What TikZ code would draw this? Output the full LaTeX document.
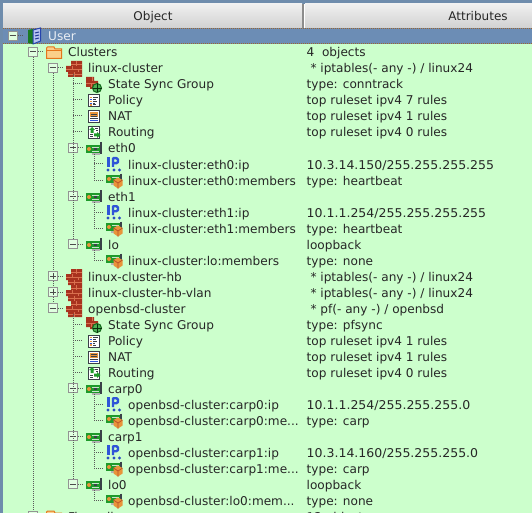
\documentclass[tikz,border=0pt]{standalone}
\usepackage{fontspec}
\setmainfont{DejaVu Sans}
\usetikzlibrary{calc}
\definecolor{rowgreen}{HTML}{CCFFCC}
\definecolor{rowblue}{HTML}{6C8DB5}
\definecolor{framebluegray}{HTML}{6E8CAC}
\definecolor{brick}{HTML}{A8331F}
\definecolor{brickline}{HTML}{D9704F}
\definecolor{nicgreen}{HTML}{1E9A2A}
\definecolor{icondark}{HTML}{3A4048}
\definecolor{ipblue}{HTML}{2F55D8}
\definecolor{cubeorange}{HTML}{E8943A}
\definecolor{folderorange}{HTML}{E4761C}
\definecolor{folderfill}{HTML}{FBD08A}
\newcommand{\cutdots}{.{}.{}.}
\newcommand{\ipnum}[1]{\scalebox{1.035}[1]{#1}}
\tikzset{objlabel/.style={anchor=base west,
                        inner sep=0pt,
                        font=\fontsize{12.1}{14}\selectfont,
                        text=black!85
                        },
        headlabel/.style={anchor=base,
                        inner sep=0pt,
                        font=\fontsize{12}{14}\selectfont,
                        text=black!85
        },
        iconbox/.style={minimum width=22pt,
                        minimum height=12pt,
                        inner sep=0pt
        },
        treeline/.style={line width=1pt,
                        dash pattern=on 1pt off 1pt,
                        black!65
        },
        expminus/.style={draw=gray!85,
                        fill=rowgreen!60!white,
                        line width=1pt,
                        minimum size=9pt,
                        inner sep=0pt,
                        path picture={\draw[black!70,line width=1pt]
                            ([xshift=-3pt]path picture bounding box.center) -- ([xshift=3pt]path picture bounding box.center);}
        },
        expplus/.style={expminus,
                        append after command={
                            (\tikzlastnode.center) +(0,-3) edge[black!70,line width=1pt] +(0,3)
                        }
        },
        bookicon/.pic={
            \fill[nicgreen!80!black] (-6,-6) -- (-1,-7) -- (-1,8) -- (-6,7) -- cycle;
            \draw[ipblue!80!black,fill=ipblue!35!white,line width=1pt] (-1,-6) -- (6.5,-8) -- (6.5,5) -- (-1,8) -- cycle;
            \draw[ipblue!70!black,line width=1pt] (1,-3) -- (5,-4) (1,0) -- (5,-1) (1,3) -- (5,2);
        },
        foldericon/.pic={
            \draw[folderorange,fill=folderfill,line width=1pt] (-7.5,-4) -- (-6.5,-5) -- (0,-5) -- (1,-3) -- (7.5,-3) -- (7.5,6.5) -- (-7.5,6.5) -- cycle;
            \draw[folderorange,line width=1pt] (-7.5,-1) -- (7.5,-1);
        },
        brickicon/.pic={
            \fill[brick] (-3,-7) rectangle (8,-2) (-8,-2) rectangle (8,4) (-6,4) rectangle (8,9);
            \draw[brickline,line width=.8pt] (-8,1) -- (8,1) (-6,6) -- (8,6) (-3,-4) -- (8,-4) (2,-7) -- (2,-2) (-2,-2) -- (-2,1) (4,1) -- (4,4) (0,4) -- (0,9);
        },
        syncicon/.pic={
            \fill[brick] (-8,-7) rectangle (0,-3) (-8,-3) rectangle (4,3) (-4,3) rectangle (4,5);
            \draw[brickline,line width=.8pt] (-8,-1) -- (4,-1) (-2,-7) -- (-2,-3) (-3,-1) -- (-3,3);
            \draw[nicgreen!70!black,fill=nicgreen!80!white,line width=1pt] (3,4) circle (4.5pt);
            \draw[black!70!nicgreen,line width=.7pt] (-1.5,4) -- (7.5,4) (3,-.5) -- (3,8.5);
        },
        policyicon/.pic={
            \draw[icondark,fill=white,line width=1pt] (-5.5,-5) rectangle (5.5,7);
            \foreach \yrow/\xend in {-2.5/3.5,-.5/1.5,1.5/3,3.5/1,5/2}
                \draw[icondark,line width=1pt] (-1,\yrow) -- (\xend,\yrow);
            \foreach \yrow in {-2.5,1.5,5}
                \draw[cubeorange,line width=1.2pt] (-4,\yrow) -- (-2,\yrow);
            \draw[ipblue,line width=1.2pt] (-4,-.5) -- (-2,-.5) (-4,3.5) -- (-2,3.5);
        },
        naticon/.pic={
            \draw[icondark,fill=white,line width=1pt] (-5.5,-5) rectangle (5.5,7);
            \fill[cubeorange] (-4,-3.5) rectangle (4,1.5);
            \draw[icondark,line width=.8pt] (-3,-2) -- (3,-2) (-3,0) -- (3,0);
            \draw[icondark,line width=1pt] (-4,3) -- (4,3);
            \draw[ipblue,line width=1pt] (-4,5) -- (4,5);
        },
        routingicon/.pic={
            \draw[icondark,fill=white,line width=1pt] (-5.5,-5) rectangle (5.5,7);
            \fill[nicgreen] (-2,-5) -- (1,-2) -- (-.5,-2) -- (-.5,1) -- (-3.5,1) -- (-3.5,-2) -- (-5,-2) -- cycle;
            \fill[nicgreen] (0,1.5) -- (3,1.5) -- (3,0) -- (6.5,3) -- (3,6) -- (3,4.5) -- (0,4.5) -- cycle;
            \draw[icondark,line width=1pt] (1,-3) -- (4,-3) (2,-1) -- (4,-1) (-4,3) -- (-1,3) (-4,5) -- (-1,5);
        },
        nicicon/.pic={
            \fill[gray!60] (-2,4) rectangle (6,7);
            \fill[nicgreen] (-8,-3) rectangle (6,5);
            \draw[icondark,line width=2pt] (7,-6) -- (7,6);
            \fill[cubeorange] (-5,1) circle (2pt);
            \draw[white!75!nicgreen,line width=.8pt] (-2,-1) -- (5,-1) (-2,3) -- (5,3);
            \fill[icondark] (0,.2) rectangle (3,1.8);
        },
        memicon/.pic={
            \fill[gray!60] (-3,2) rectangle (3,5);
            \fill[nicgreen] (-8,-5) rectangle (6,3);
            \draw[icondark,line width=2pt] (7,-6.5) -- (7,3);
            \fill[cubeorange] (-5,-1) circle (2pt);
            \draw[white!75!nicgreen,line width=.8pt] (-2,-3) -- (5,-3);
            \fill[cubeorange] (4,-2.5) -- (8.5,0) -- (8.5,5.5) -- (4,8.5) -- (-.5,5.5) -- (-.5,0) -- cycle;
            \draw[brick!70!cubeorange,line width=.7pt] (-.5,0) -- (4,3) -- (8.5,0) (4,3) -- (4,8.5);
        },
        ipicon/.pic={
            \fill[ipblue] (-7,-7) rectangle (-4,3);
            \draw[ipblue,line width=2.4pt,line join=round] (-1,3) -- (-1,-5.8) -- (2.5,-5.8) -- (4,-4.5) -- (4,-2) -- (2.5,-.8) -- (-1,-.8);
            \foreach \xdot in {-6,0,5.5}
                \fill[ipblue!90!black] (\xdot,6) circle (1.7pt);
        },
}
\begin{document}
\begin{tikzpicture}
    [x=1pt,y=-1pt]
    \useasboundingbox (0,0) rectangle (532,513);
    \clip (0,0) rectangle (532,513);

    % BACKGROUND
    \fill[framebluegray] (0,0) rectangle (532,513);
    \fill[rowgreen] (3,44) rectangle (532,513);
    \shade[top color=black!6,bottom color=black!18] (3,4) rectangle (302,28);
    \shade[top color=black!6,bottom color=black!18] (305,4) rectangle (532,28);
    \fill[black!45] (302,4) rectangle (304,28);
    \fill[white] (304,4) rectangle (305,28);
    \fill[rowblue] (3,28) rectangle (532,44);
    \draw[brown!80!black,line width=1pt,dash pattern=on 1pt off 1pt] (3,28.5) -- (532,28.5) (3,44) -- (532,44);

    % HEADER
    \node[headlabel] (headObject) at (153,21) {Object};
    \node[headlabel] (headAttributes) at (478,21) {Attributes};

    % USER ROW
    \node[iconbox] (icouser) at (34,36) {};
    \pic at (icouser) {bookicon};
    \node[objlabel,text=white!85!rowblue] (lbluser) at (48,41) {User};

    % ROWS
    \foreach \rowname/\level/\iconname/\objtext/\attrtext [count=\i] in {
        clusters/1/foldericon/Clusters/{4\ \ objects},
        linux/2/brickicon/linux-cluster/{\ * iptables(- any -) / linux24},
        lsync/3/syncicon/State Sync Group/{type: conntrack},
        lpolicy/3/policyicon/Policy/{top ruleset ipv4 7 rules},
        lnat/3/naticon/NAT/{top ruleset ipv4 1 rules},
        lrouting/3/routingicon/Routing/{top ruleset ipv4 0 rules},
        eth0/3/nicicon/eth0/{},
        eth0ip/4/ipicon/linux-cluster:eth0:ip/{\ipnum{10.3.14.150/255.255.255.255}},
        eth0mem/4/memicon/linux-cluster:eth0:members/{type: heartbeat},
        eth1/3/nicicon/eth1/{},
        eth1ip/4/ipicon/linux-cluster:eth1:ip/{\ipnum{10.1.1.254/255.255.255.255}},
        eth1mem/4/memicon/linux-cluster:eth1:members/{type: heartbeat},
        lo/3/nicicon/lo/{loopback},
        lomem/4/memicon/linux-cluster:lo:members/{type: none},
        hb/2/brickicon/linux-cluster-hb/{\ * iptables(- any -) / linux24},
        hbvlan/2/brickicon/linux-cluster-hb-vlan/{\ * iptables(- any -) / linux24},
        openbsd/2/brickicon/openbsd-cluster/{\ * pf(- any -) / openbsd},
        osync/3/syncicon/State Sync Group/{type: pfsync},
        opolicy/3/policyicon/Policy/{top ruleset ipv4 1 rules},
        onat/3/naticon/NAT/{top ruleset ipv4 1 rules},
        orouting/3/routingicon/Routing/{top ruleset ipv4 0 rules},
        carp0/3/nicicon/carp0/{},
        carp0ip/4/ipicon/openbsd-cluster:carp0:ip/{\ipnum{10.1.1.254/255.255.255.0}},
        carp0mem/4/memicon/openbsd-cluster:carp0:me\cutdots/{type: carp},
        carp1/3/nicicon/carp1/{},
        carp1ip/4/ipicon/openbsd-cluster:carp1:ip/{\ipnum{10.3.14.160/255.255.255.0}},
        carp1mem/4/memicon/openbsd-cluster:carp1:me\cutdots/{type: carp},
        lo0/3/nicicon/lo0/{loopback},
        lo0mem/4/memicon/openbsd-cluster:lo0:mem\cutdots/{type: none},
        firewalls/1/foldericon/Firewalls/{12 objects}}
    {
        \pgfmathsetmacro{\rowy}{36+16*\i}
        \pgfmathsetmacro{\iconx}{34+20*\level}
        \node[iconbox] (ico\rowname) at (\iconx,\rowy) {};
        \pic at (ico\rowname) {\iconname};
        \node[objlabel] (lbl\rowname) at (\iconx+14,\rowy+5) {\objtext};
        \node[objlabel] (att\rowname) at (306.5,\rowy+5) {\attrtext};
    }

    % EXPANDERS
    \node[expminus] (expuser) at ($(icouser)+(-21.5,0)$) {};
    \foreach \rowname/\stylename in {clusters/expminus,firewalls/expplus,linux/expminus,hb/expplus,hbvlan/expplus,openbsd/expminus,
                                 eth0/expminus,eth1/expminus,lo/expminus,carp0/expminus,carp1/expminus,lo0/expminus}
        \node[\stylename] (exp\rowname) at ($(ico\rowname)+(-21,0)$) {};

    \foreach \rowname in {user,clusters,firewalls,linux,hb,hbvlan,openbsd,eth0,eth1,lo,carp0,carp1,lo0}
        \draw[treeline] (exp\rowname) -- (ico\rowname);

    % TRUNKS
    \draw[treeline] (expclusters) -- (expfirewalls);
    \draw[treeline] (explinux) -- (exphb);
    \draw[treeline] (exphb) -- (exphbvlan);
    \draw[treeline] (exphbvlan) -- (expopenbsd);
    \draw[treeline] (explo.north |- icolinux.south) -- (explo);
    \draw[treeline] (explo0.north |- icoopenbsd.south) -- (explo0);

    \foreach \rowname in {lsync,lpolicy,lnat,lrouting}
        \draw[treeline] (explo.north |- ico\rowname) -- (ico\rowname);
    \foreach \rowname in {osync,opolicy,onat,orouting}
        \draw[treeline] (explo0.north |- ico\rowname) -- (ico\rowname);

    \foreach \parentname/\childname in {eth0/eth0ip,eth0/eth0mem,eth1/eth1ip,eth1/eth1mem,lo/lomem,
                                        carp0/carp0ip,carp0/carp0mem,carp1/carp1ip,carp1/carp1mem,lo0/lo0mem}
        \draw[treeline] (ico\parentname.south) |- (ico\childname);

\end{tikzpicture}
\end{document}
